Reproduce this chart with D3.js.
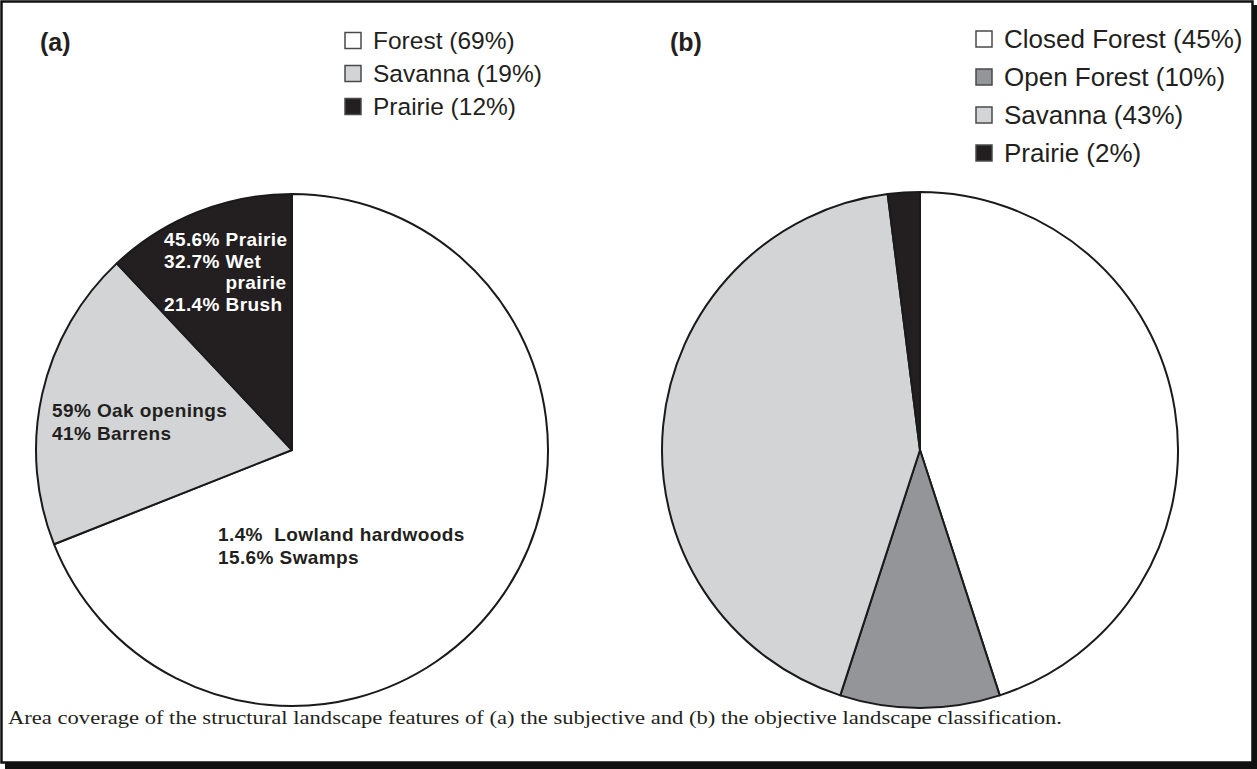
<!DOCTYPE html>
<html>
<head>
<meta charset="utf-8">
<script src="https://cdn.jsdelivr.net/npm/d3@7"></script>
<style>
  html, body { margin: 0; padding: 0; background: #fff; }
  svg { display: block; }
</style>
</head>
<body>
<svg id="chart" width="1257" height="769"></svg>
<script>
// ---------- DATA ----------
const panelLabels = ["(a)", "(b)"];

const pieACategories = ["Forest", "Savanna", "Prairie"];
const pieAValues = [69, 19, 12];

const pieBCategories = ["Closed Forest", "Open Forest", "Savanna", "Prairie"];
const pieBValues = [45, 10, 43, 2];

const prairieNotes = ["45.6% Prairie", "32.7% Wet", "prairie", "21.4% Brush"];
const savannaNotes = ["59% Oak openings", "41% Barrens"];
const forestNotes = ["1.4%  Lowland hardwoods", "15.6% Swamps"];

const captionText = "Area coverage of the structural landscape features of (a) the subjective and (b) the objective landscape classification.";

// ---------- STYLE ----------
const fillScale = d3.scaleOrdinal()
  .domain(["Forest", "Closed Forest", "Open Forest", "Savanna", "Prairie"])
  .range(["#ffffff", "#ffffff", "#939598", "#d2d4d6", "#231f20"]);

const svg = d3.select("#chart");
const W = 1257, H = 769;
const sans = "'Liberation Sans', Arial, Helvetica, sans-serif";
const serif = "'Liberation Serif', 'Times New Roman', Times, serif";

// frame with shadow
svg.append("rect").attr("x", 5).attr("y", 763).attr("width", W - 5).attr("height", 6).attr("fill", "#111");
svg.append("rect").attr("x", 1253).attr("y", 5).attr("width", 4).attr("height", H - 5).attr("fill", "#111");
svg.append("rect").attr("x", 1.5).attr("y", 1.5).attr("width", 1251).attr("height", 761)
  .attr("fill", "#fff").attr("stroke", "#111").attr("stroke-width", 2.5);

const pie = d3.pie().sort(null).value(d => d.value).startAngle(0).endAngle(2 * Math.PI);

function drawPie(cx, cy, r, cats, vals) {
  const arc = d3.arc().innerRadius(0).outerRadius(r);
  const data = cats.map((c, i) => ({ cat: c, value: vals[i] }));
  const g = svg.append("g").attr("transform", `translate(${cx},${cy})`);
  g.selectAll("path").data(pie(data)).join("path")
    .attr("d", arc)
    .attr("fill", d => fillScale(d.data.cat))
    .attr("stroke", "#1a1a1a")
    .attr("stroke-width", 2)
    .attr("stroke-linejoin", "round");
  return g;
}

function drawLegend(x, y0, step, fontSize, cats, vals) {
  const g = svg.append("g");
  cats.forEach((c, i) => {
    const cy = y0 + i * step;
    g.append("rect").attr("x", x).attr("y", cy - 8).attr("width", 16).attr("height", 16)
      .attr("fill", fillScale(c)).attr("stroke", "#4a4a4a").attr("stroke-width", 1.5);
    g.append("text").attr("x", x + 28).attr("y", cy + fontSize * 0.36)
      .attr("font-family", sans).attr("font-size", fontSize).attr("fill", "#231f20")
      .text(`${c} (${vals[i]}%)`);
  });
}

// Pie (a)
drawPie(292, 450, 256, pieACategories, pieAValues);
// Pie (b)
drawPie(920, 450, 258, pieBCategories, pieBValues);

// panel labels
svg.append("text").attr("x", 40).attr("y", 51).attr("font-family", sans).attr("font-weight", "bold")
  .attr("font-size", 25).attr("fill", "#231f20").text(panelLabels[0]);
svg.append("text").attr("x", 670).attr("y", 51).attr("font-family", sans).attr("font-weight", "bold")
  .attr("font-size", 25).attr("fill", "#231f20").text(panelLabels[1]);

// legends
drawLegend(345, 40.5, 33, 24.5, pieACategories, pieAValues);
drawLegend(976, 39, 38, 26, pieBCategories, pieBValues);

// annotations
function note(x, y, txt, color) {
  return svg.append("text").attr("x", x).attr("y", y)
    .attr("font-family", sans).attr("font-weight", "bold").attr("font-size", 19)
    .attr("letter-spacing", 0.4)
    .attr("fill", color).text(txt);
}
note(164, 246, prairieNotes[0], "#ffffff");
note(164, 267.5, prairieNotes[1], "#ffffff");
// align "prairie" with the word "Wet"
const tmp = note(0, -100, "32.7% ", "#ffffff").style("white-space", "pre");
const offsetW = tmp.node().getComputedTextLength();
tmp.remove();
note(164 + offsetW, 289, prairieNotes[2], "#ffffff");
note(164, 311, prairieNotes[3], "#ffffff");

note(52, 417, savannaNotes[0], "#231f20");
note(52, 439.5, savannaNotes[1], "#231f20");

note(218, 541, forestNotes[0], "#231f20").style("white-space", "pre");
note(218, 563.5, forestNotes[1], "#231f20");

// caption
svg.append("text").attr("x", 8).attr("y", 724)
  .attr("font-family", serif).attr("font-size", 19.5).attr("fill", "#231f20")
  .attr("textLength", 1054).attr("lengthAdjust", "spacingAndGlyphs")
  .text(captionText);
</script>
</body>
</html>
